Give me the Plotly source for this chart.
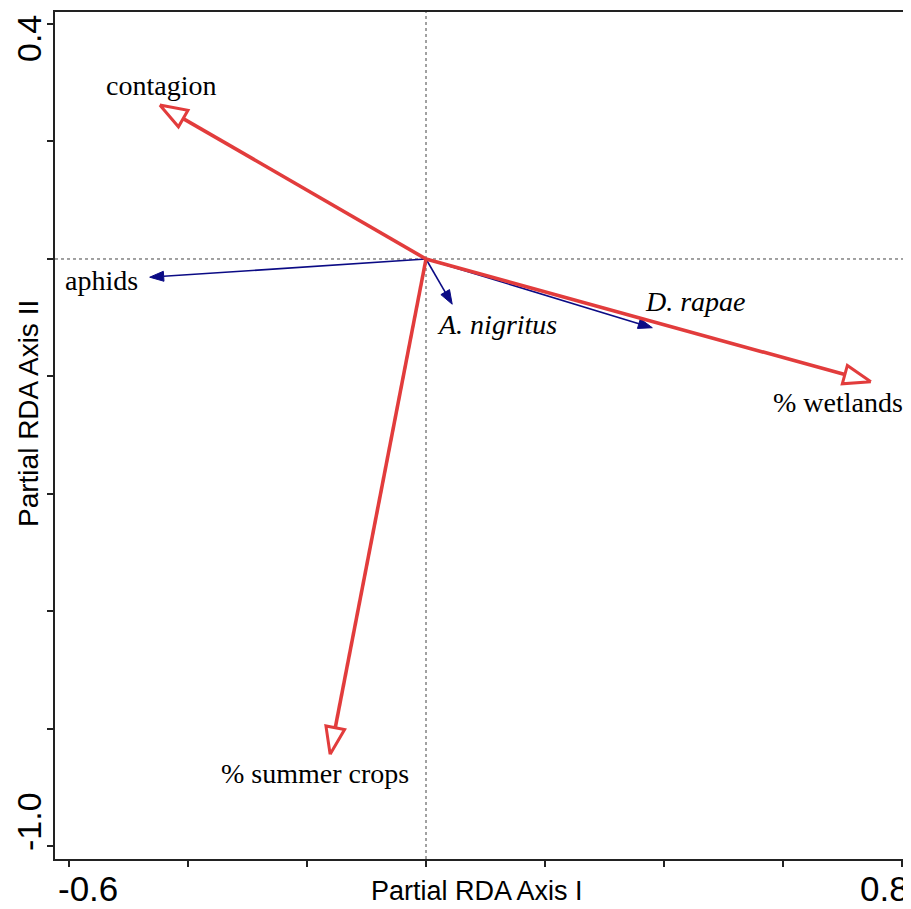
import numpy as np
import plotly.graph_objects as go

# ---------------- data ----------------
env_names = ["contagion", "% wetlands", "% summer crops"]
env_x = [-0.447, 0.747, -0.161]
env_y = [0.262, -0.209, -0.843]

sp_names = ["aphids", "<i>A. nigritus</i>", "<i>D. rapae</i>"]
sp_x = [-0.464, 0.044, 0.380]
sp_y = [-0.031, -0.077, -0.117]

# label anchor positions (data units)
env_lab_x = [-0.445, 0.692, -0.186]
env_lab_y = [0.296, -0.245, -0.875]
sp_lab_x = [-0.545, 0.120, 0.453]
sp_lab_y = [-0.037, -0.111, -0.072]

x_ticks = [-0.6, -0.4, -0.2, 0.0, 0.2, 0.4, 0.6, 0.8]
y_ticks = [-1.0, -0.8, -0.6, -0.4, -0.2, 0.0, 0.2, 0.4]
x_tick_text = ["-0.6", "0.8"]
y_tick_text = ["0.4", "-1.0"]
x_title = "Partial RDA Axis I"
y_title = "Partial RDA Axis II"

# ---------------- layout geometry ----------------
OFF = 8  # page body margin
W, H = 911 - OFF, 909 - OFF
ML, MR, MT, MB = 55 - OFF, 0, 12 - OFF, 50
XR = [-0.623, 0.8144]
YR = [-1.0213, 0.4204]
pw, ph = W - ML - MR, H - MT - MB
sx = pw / (XR[1] - XR[0])
sy = ph / (YR[1] - YR[0])

RED = "#e23c3c"
BLUE = "#0b0b85"

fig = go.Figure()


def head(tx, ty, L, hw):
    """triangle head (in data units) for an arrow from origin to (tx, ty)"""
    vx, vy = tx * sx, ty * sy
    n = np.hypot(vx, vy)
    ux, uy = vx / n, vy / n
    bx, by = vx - L * ux, vy - L * uy
    px_, py_ = -uy, ux
    c1 = (bx + hw * px_, by + hw * py_)
    c2 = (bx - hw * px_, by - hw * py_)
    xs = [tx, c1[0] / sx, c2[0] / sx, tx]
    ys = [ty, c1[1] / sy, c2[1] / sy, ty]
    return xs, ys, bx / sx, by / sy


# species (blue, filled heads)
for x, y in zip(sp_x, sp_y):
    hx, hy, bx, by = head(x, y, 14, 5)
    fig.add_trace(go.Scatter(x=[0, bx], y=[0, by], mode="lines",
                             line=dict(color=BLUE, width=1.6),
                             hoverinfo="skip", showlegend=False))
    fig.add_trace(go.Scatter(x=hx, y=hy, mode="lines", fill="toself",
                             fillcolor=BLUE, line=dict(color=BLUE, width=1),
                             hoverinfo="skip", showlegend=False))

# environment (red, hollow heads)
for x, y in zip(env_x, env_y):
    hx, hy, bx, by = head(x, y, 27, 9.5)
    fig.add_trace(go.Scatter(x=[0, bx], y=[0, by], mode="lines",
                             line=dict(color=RED, width=3.6),
                             hoverinfo="skip", showlegend=False))
    fig.add_trace(go.Scatter(x=hx, y=hy, mode="lines", fill="toself",
                             fillcolor="white", line=dict(color=RED, width=3),
                             hoverinfo="skip", showlegend=False))

serif = dict(family="Liberation Serif, Times New Roman, serif", size=28, color="black")
annotations = []
for t, x, y in zip(env_names, env_lab_x, env_lab_y):
    annotations.append(dict(text=t, x=x, y=y, xref="x", yref="y", showarrow=False,
                            xanchor="center", yanchor="middle", font=serif))
for t, x, y in zip(sp_names, sp_lab_x, sp_lab_y):
    annotations.append(dict(text=t, x=x, y=y, xref="x", yref="y", showarrow=False,
                            xanchor="center", yanchor="middle", font=serif))


def pxx(p):
    return (p - OFF - ML) / pw


def pxy(p):
    return (H - MB - (p - OFF)) / ph


sans = "Liberation Sans, Arial, sans-serif"
# end tick labels
annotations.append(dict(text=x_tick_text[0], x=pxx(88), y=pxy(888), xref="paper", yref="paper",
                        showarrow=False, xanchor="center", yanchor="middle",
                        font=dict(family=sans, size=35, color="black")))
annotations.append(dict(text=x_tick_text[1], x=pxx(884), y=pxy(888), xref="paper", yref="paper",
                        showarrow=False, xanchor="center", yanchor="middle",
                        font=dict(family=sans, size=35, color="black")))
annotations.append(dict(text=y_tick_text[0], x=pxx(29), y=pxy(39), xref="paper", yref="paper",
                        showarrow=False, xanchor="center", yanchor="middle", textangle=-90,
                        font=dict(family=sans, size=34, color="black")))
annotations.append(dict(text=y_tick_text[1], x=pxx(29), y=pxy(822), xref="paper", yref="paper",
                        showarrow=False, xanchor="center", yanchor="middle", textangle=-90,
                        font=dict(family=sans, size=34, color="black")))
# axis titles
annotations.append(dict(text=x_title, x=pxx(477), y=pxy(891), xref="paper", yref="paper",
                        showarrow=False, xanchor="center", yanchor="middle",
                        font=dict(family=sans, size=27, color="black")))
annotations.append(dict(text=y_title, x=pxx(28), y=pxy(414), xref="paper", yref="paper",
                        showarrow=False, xanchor="center", yanchor="middle", textangle=-90,
                        font=dict(family=sans, size=28, color="black")))

shapes = [
    dict(type="line", xref="x", yref="paper", x0=0, x1=0, y0=0, y1=1,
         line=dict(color="#444444", width=1, dash="dot"), layer="below"),
    dict(type="line", xref="paper", yref="y", x0=0, x1=1, y0=0, y1=0,
         line=dict(color="#444444", width=1, dash="dot"), layer="below"),
]

fig.update_layout(
    width=W, height=H,
    margin=dict(l=ML, r=MR, t=MT, b=MB, pad=0),
    paper_bgcolor="white", plot_bgcolor="white",
    showlegend=False,
    annotations=annotations,
    shapes=shapes,
    xaxis=dict(range=XR, showgrid=False, zeroline=False, showline=True, linewidth=2,
               linecolor="#222222", mirror=True, ticks="outside", ticklen=6, tickwidth=1.5,
               tickcolor="#222222", tickvals=x_ticks, showticklabels=False, fixedrange=True),
    yaxis=dict(range=YR, showgrid=False, zeroline=False, showline=True, linewidth=2,
               linecolor="#222222", mirror=False, ticks="outside", ticklen=6, tickwidth=1.5,
               tickcolor="#222222", tickvals=y_ticks, showticklabels=False, fixedrange=True),
)

fig.write_html("out.html")
